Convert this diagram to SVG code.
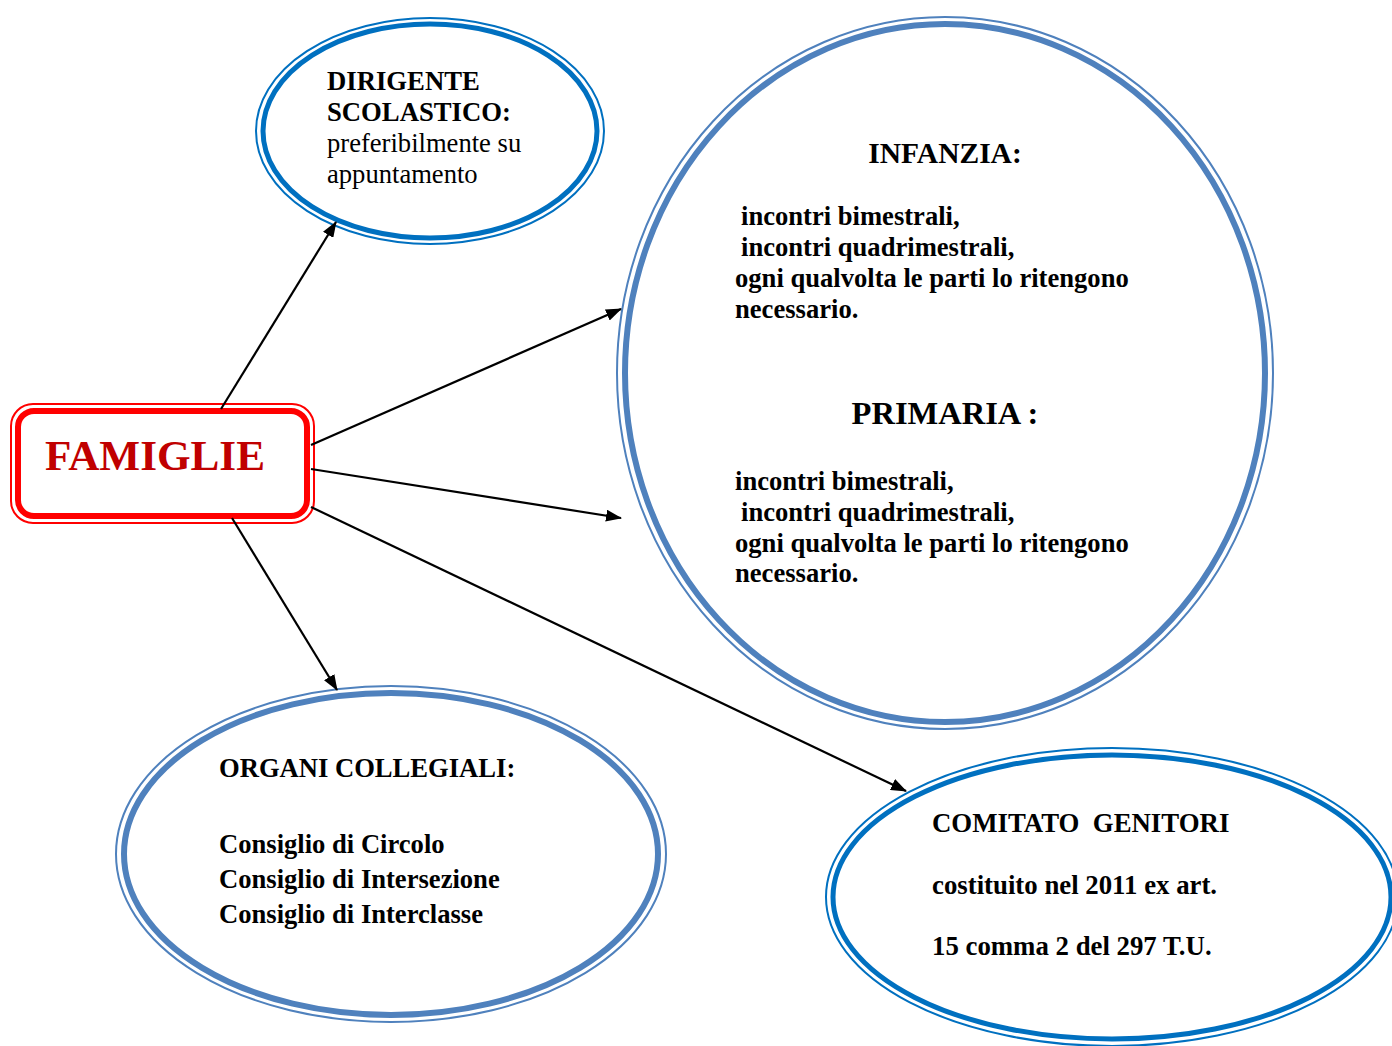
<svg xmlns="http://www.w3.org/2000/svg" width="1392" height="1046" viewBox="0 0 1392 1046">
<defs>
<marker id="ah" markerWidth="16" markerHeight="12" refX="15" refY="6" orient="auto" markerUnits="userSpaceOnUse" viewBox="0 0 16 12">
<path d="M0,0 L16,6 L0,12 Z" fill="#000"/>
</marker>
<style>
text{font-family:"Liberation Serif","Times New Roman",serif;fill:#000}
.b{font-weight:bold}
.blue1 .o{fill:none;stroke:#0070C0;stroke-width:2}
.blue1 .i{fill:#fff;stroke:#0070C0;stroke-width:5}
.blue2 .o{fill:none;stroke:#4F81BD;stroke-width:2}
.blue2 .i{fill:#fff;stroke:#4F81BD;stroke-width:6}
.conn line{stroke:#000;stroke-width:2.2;marker-end:url(#ah)}
</style>
</defs>
<rect width="1392" height="1046" fill="#fff"/>

<g id="dirigente" class="blue1">
<ellipse class="o" cx="430" cy="131" rx="174" ry="113"/>
<ellipse class="i" cx="430" cy="131" rx="167" ry="107"/>
<text class="b" x="327" y="90" font-size="26.7">DIRIGENTE</text>
<text class="b" x="327" y="121" font-size="26.7">SCOLASTICO:</text>
<text x="327" y="152" font-size="26.6">preferibilmente su</text>
<text x="327" y="183" font-size="26.6">appuntamento</text>
</g>

<g id="scuole" class="blue2">
<ellipse class="o" cx="945" cy="373" rx="328" ry="356"/>
<ellipse class="i" cx="945" cy="373" rx="320" ry="349"/>
<text class="b" x="945" y="163" font-size="29.5" text-anchor="middle">INFANZIA:</text>
<text class="b" x="741" y="225" font-size="26.6">incontri bimestrali,</text>
<text class="b" x="741" y="256" font-size="26.6">incontri quadrimestrali,</text>
<text class="b" x="735" y="287" font-size="26.6">ogni qualvolta le parti lo ritengono</text>
<text class="b" x="735" y="318" font-size="26.6">necessario.</text>
<text class="b" x="945" y="424" font-size="32.5" text-anchor="middle">PRIMARIA :</text>
<text class="b" x="735" y="490" font-size="26.6">incontri bimestrali,</text>
<text class="b" x="741" y="521" font-size="26.6">incontri quadrimestrali,</text>
<text class="b" x="735" y="552" font-size="26.6">ogni qualvolta le parti lo ritengono</text>
<text class="b" x="735" y="582" font-size="26.6">necessario.</text>
</g>

<g id="organi" class="blue2">
<ellipse class="o" cx="391" cy="854" rx="275" ry="168"/>
<ellipse class="i" cx="391" cy="854" rx="267" ry="161"/>
<text class="b" x="219" y="777" font-size="26.6">ORGANI COLLEGIALI:</text>
<text class="b" x="219" y="853" font-size="26.6">Consiglio di Circolo</text>
<text class="b" x="219" y="888" font-size="26.6">Consiglio di Intersezione</text>
<text class="b" x="219" y="923" font-size="26.6">Consiglio di Interclasse</text>
</g>

<g id="comitato" class="blue1">
<ellipse class="o" cx="1112" cy="897" rx="286" ry="149"/>
<ellipse class="i" cx="1112" cy="897" rx="279" ry="142"/>
<text class="b" x="932" y="832" font-size="26.8" xml:space="preserve">COMITATO  GENITORI</text>
<text class="b" x="932" y="894" font-size="26.8">costituito nel 2011 ex art.</text>
<text class="b" x="932" y="955" font-size="26.8">15 comma 2 del 297 T.U.</text>
</g>

<g id="famiglie">
<rect x="11" y="404" width="303" height="119" rx="22" ry="22" fill="none" stroke="#FF0000" stroke-width="2"/>
<rect x="18" y="411" width="289" height="105" rx="16" ry="16" fill="#fff" stroke="#FF0000" stroke-width="6"/>
<text class="b" x="45" y="470" font-size="43.2" style="fill:#C00000">FAMIGLIE</text>
</g>

<g id="connectors" class="conn">
<line x1="221" y1="409" x2="336" y2="222"/>
<line x1="311" y1="445" x2="621" y2="309"/>
<line x1="311" y1="469" x2="621" y2="518"/>
<line x1="232" y1="518" x2="337" y2="690"/>
<line x1="311" y1="507" x2="906" y2="791"/>
</g>
</svg>
